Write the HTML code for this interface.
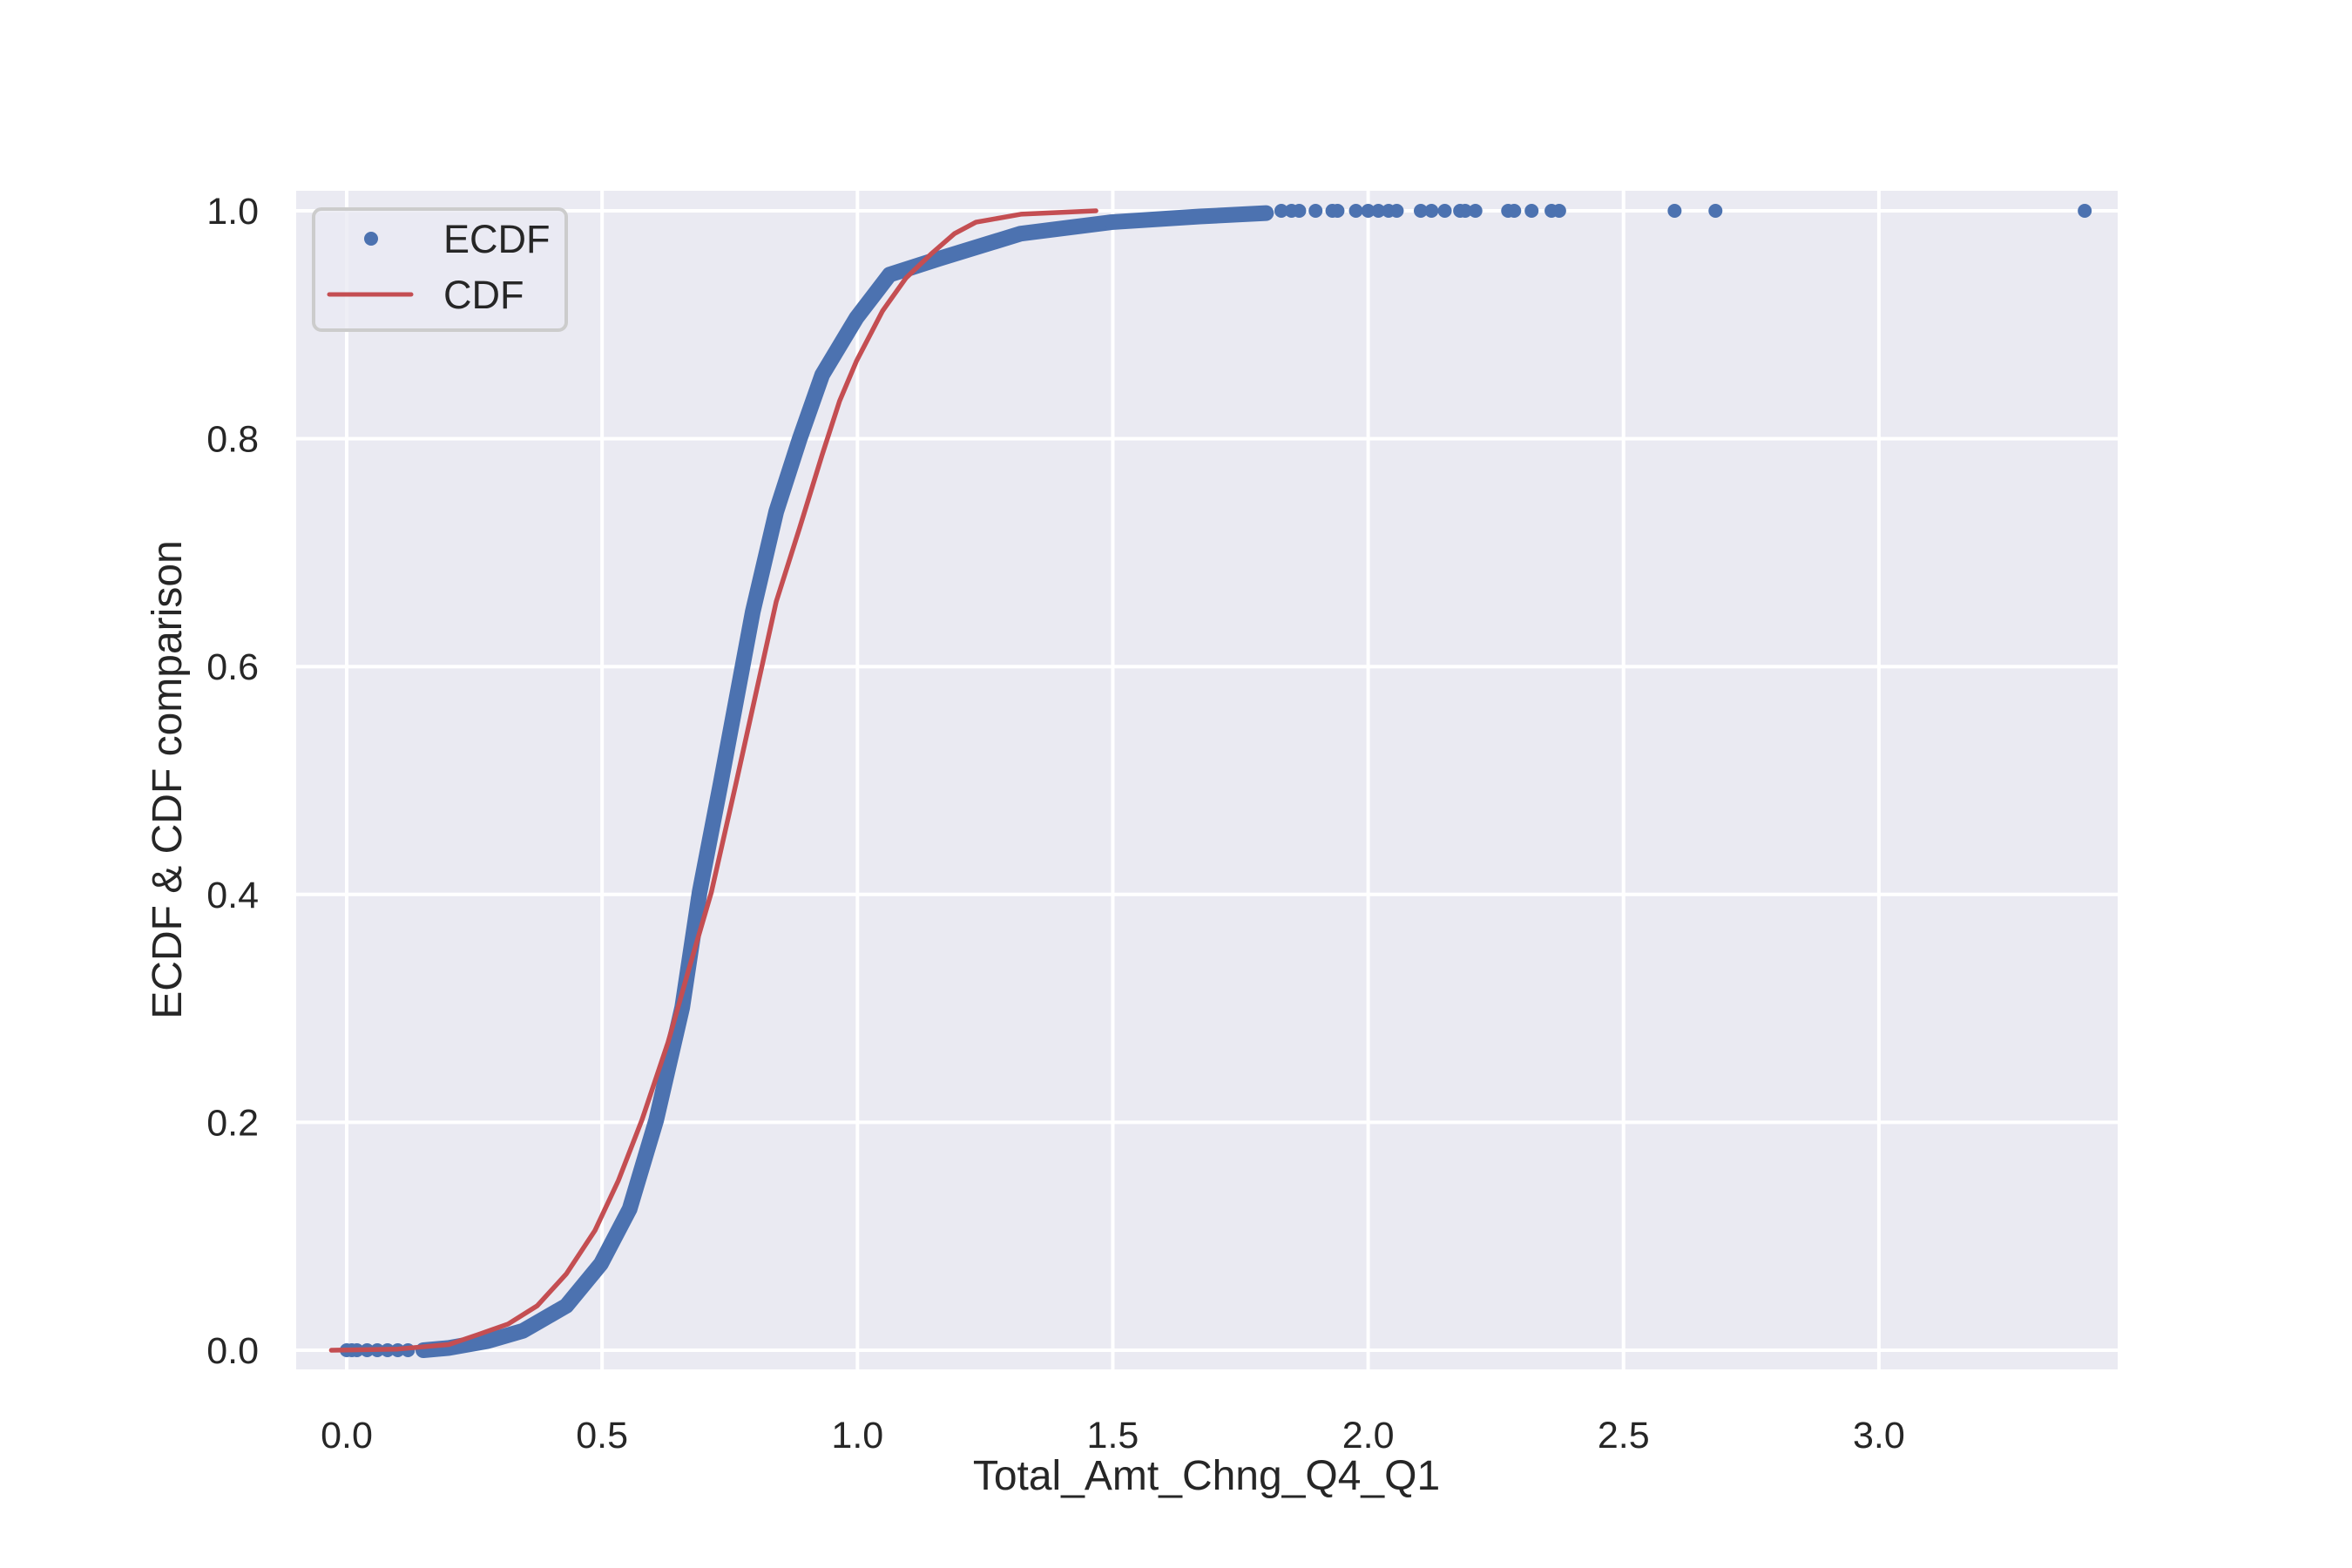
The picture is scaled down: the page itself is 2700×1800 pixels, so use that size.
<!DOCTYPE html>
<html><head><meta charset="utf-8">
<style>
html,body{margin:0;padding:0;background:#fff;}
svg{display:block;font-family:"Liberation Sans",Arial,sans-serif;}
</style></head>
<body>
<svg id="chart" width="2700" height="1800" viewBox="0 0 2700 1800" xmlns="http://www.w3.org/2000/svg">
<rect x="340" y="219" width="2091" height="1353" fill="#EAEAF2"/>
<g id="grid"></g>
<g id="ticks"></g>
<g id="series"></g>
<text x="1385" y="1710" font-size="48" fill="#262626" text-anchor="middle">Total_Amt_Chng_Q4_Q1</text>
<text transform="translate(208,895) rotate(-90)" font-size="48" fill="#262626" text-anchor="middle">ECDF &amp; CDF comparison</text>
<g>
<rect x="360" y="240" width="290" height="139" rx="9" fill="#EAEAF2" fill-opacity="0.8" stroke="#cccccc" stroke-width="4"/>
<circle cx="426" cy="274" r="8" fill="#4C72B0"/>
<text x="509" y="290" font-size="45" fill="#262626">ECDF</text>
<line x1="378" y1="338" x2="472" y2="338" stroke="#C44E52" stroke-width="5" stroke-linecap="round"/>
<text x="509" y="354" font-size="45" fill="#262626">CDF</text>
</g>
</svg>
<script>
const xTicks = [0.0, 0.5, 1.0, 1.5, 2.0, 2.5, 3.0];
const xTickLabels = ["0.0","0.5","1.0","1.5","2.0","2.5","3.0"];
const yTicks = [0.0, 0.2, 0.4, 0.6, 0.8, 1.0];
const yTickLabels = ["0.0","0.2","0.4","0.6","0.8","1.0"];
// ECDF dense body (x, y)
const ecdfX = [0.15,0.2,0.276,0.345,0.43,0.498,0.554,0.606,0.657,0.691,0.732,0.795,0.841,0.887,0.931,0.998,1.063,1.16,1.32,1.497,1.67,1.8];
const ecdfY = [0.0,0.002,0.008,0.017,0.039,0.076,0.124,0.202,0.301,0.402,0.497,0.648,0.736,0.80,0.856,0.906,0.944,0.958,0.98,0.99,0.995,0.998];
// ECDF isolated points
const lowX = [0.0,0.01,0.02,0.04,0.06,0.08,0.1,0.12];
const tailX = [1.83,1.85,1.865,1.897,1.93,1.94,1.976,2.0,2.02,2.04,2.056,2.103,2.124,2.15,2.18,2.19,2.21,2.274,2.286,2.32,2.359,2.374,2.6,2.68,3.403];
// Theoretical CDF
const cdfX = [-0.03,0.1,0.2,0.259,0.316,0.373,0.43,0.486,0.532,0.578,0.629,0.669,0.714,0.762,0.841,0.887,0.931,0.965,0.998,1.049,1.095,1.144,1.19,1.232,1.32,1.467];
const cdfY = [0.0,0.001,0.005,0.014,0.023,0.039,0.067,0.105,0.149,0.202,0.27,0.333,0.402,0.497,0.657,0.722,0.786,0.833,0.868,0.912,0.941,0.962,0.98,0.99,0.997,1.0];

const X0 = 398, XU = 586.3, Y0 = 1550, YU = 1308;
function sx(v){ return X0 + v*XU; }
function sy(v){ return Y0 - v*YU; }
const NS = "http://www.w3.org/2000/svg";
function mk(tag, attrs, parent){
  const el = document.createElementNS(NS, tag);
  for (const k in attrs) el.setAttribute(k, attrs[k]);
  parent.appendChild(el);
  return el;
}
const grid = document.getElementById('grid');
const ticks = document.getElementById('ticks');
const series = document.getElementById('series');

xTicks.forEach((t,i)=>{
  const l = mk('line',{x1:sx(t),x2:sx(t),y1:219,y2:1572,stroke:'#fff','stroke-width':4},grid);
  
  
  const tx = mk('text',{x:sx(t),y:1662,'font-size':43,fill:'#262626','text-anchor':'middle'},ticks);
  tx.textContent = xTickLabels[i];
  
  
});
yTicks.forEach((t,i)=>{
  const l = mk('line',{x1:340,x2:2431,y1:sy(t),y2:sy(t),stroke:'#fff','stroke-width':4},grid);
  
  
  const tx = mk('text',{x:297,y:sy(t)+15,'font-size':43,fill:'#262626','text-anchor':'end'},ticks);
  tx.textContent = yTickLabels[i];
  
  
});

// ECDF body as thick band of markers
let d = ecdfX.map((v,i)=>(i?'L':'M')+sx(v)+' '+sy(ecdfY[i])).join(' ');
const band = mk('path',{d:d,fill:'none',stroke:'#4C72B0','stroke-width':18,'stroke-linecap':'round','stroke-linejoin':'round'},series);


ecdfX.forEach((v,i)=>{
  const c = mk('circle',{cx:sx(v),cy:sy(ecdfY[i]),r:8,fill:'#4C72B0'},series);
  
  
});
lowX.forEach(v=>{
  const c = mk('circle',{cx:sx(v),cy:sy(0),r:8,fill:'#4C72B0'},series);
  
  
});
tailX.forEach(v=>{
  const c = mk('circle',{cx:sx(v),cy:sy(1),r:8,fill:'#4C72B0'},series);
  
  
});
// CDF line
const cd = cdfX.map((v,i)=>(i?'L':'M')+sx(v)+' '+sy(cdfY[i])).join(' ');
const cl = mk('path',{d:cd,fill:'none',stroke:'#C44E52','stroke-width':5.5,'stroke-linecap':'round','stroke-linejoin':'round'},series);


</script>
</body></html>
